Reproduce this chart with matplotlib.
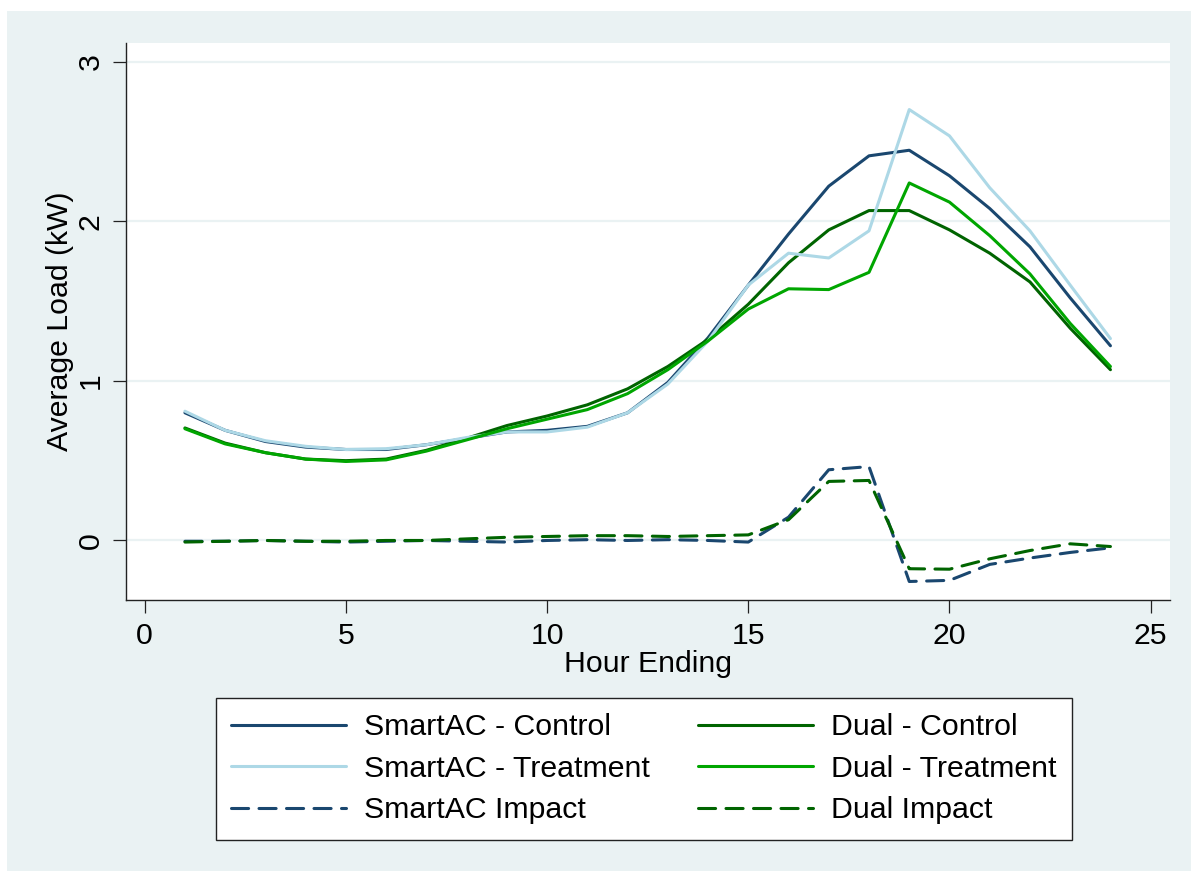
import matplotlib
matplotlib.use('Agg')
import matplotlib.pyplot as plt
from matplotlib.patches import Rectangle

# hour ending 1..24
hours = list(range(1, 25))

smartac_control = [0.80, 0.69, 0.62, 0.585, 0.57, 0.57, 0.60, 0.64, 0.68, 0.69, 0.715, 0.80,
                   0.99, 1.27, 1.60, 1.92, 2.22, 2.41, 2.445, 2.285, 2.08, 1.84, 1.52, 1.22]
smartac_treatment = [0.81, 0.69, 0.625, 0.59, 0.57, 0.575, 0.60, 0.645, 0.68, 0.68, 0.71, 0.80,
                     0.98, 1.25, 1.60, 1.80, 1.77, 1.94, 2.70, 2.535, 2.21, 1.94, 1.60, 1.265]
dual_control = [0.705, 0.61, 0.55, 0.51, 0.50, 0.51, 0.565, 0.64, 0.72, 0.78, 0.85, 0.95,
                1.09, 1.26, 1.48, 1.74, 1.946, 2.067, 2.067, 1.946, 1.80, 1.62, 1.33, 1.07]
dual_treatment = [0.70, 0.605, 0.55, 0.51, 0.495, 0.505, 0.56, 0.63, 0.70, 0.76, 0.82, 0.92,
                  1.07, 1.25, 1.45, 1.577, 1.572, 1.68, 2.24, 2.12, 1.91, 1.67, 1.36, 1.09]
smartac_impact = [-0.005, -0.005, 0.0, -0.005, -0.01, -0.005, 0.0, -0.005, -0.01, 0.0, 0.005, 0.0,
                  0.005, 0.0, -0.01, 0.146, 0.443, 0.463, -0.257, -0.25, -0.15, -0.11, -0.075, -0.046]
dual_impact = [-0.01, -0.005, 0.0, -0.005, -0.005, 0.0, 0.0, 0.01, 0.02, 0.025, 0.03, 0.03,
               0.025, 0.03, 0.035, 0.13, 0.37, 0.376, -0.177, -0.18, -0.115, -0.063, -0.021, -0.038]

x_ticks = [0, 5, 10, 15, 20, 25]
y_ticks = [0, 1, 2, 3]

NAVY = '#1a476f'
LTBLUE = '#add8e6'
DKGREEN = '#006400'
GREEN = '#00a600'
BG = '#eaf2f3'

plt.rcParams['font.family'] = ['Liberation Sans', 'DejaVu Sans']
plt.rcParams['lines.solid_capstyle'] = 'round'
plt.rcParams['lines.dash_capstyle'] = 'round'
plt.rcParams['lines.solid_joinstyle'] = 'round'
plt.rcParams['lines.dash_joinstyle'] = 'round'
FS = 21.8

fig = plt.figure(figsize=(11.91, 8.71), dpi=100, facecolor='white')
# light bluish-gray graph region (small white margin top/left)
fig.patches.append(Rectangle((7 / 1191, 0), 1 - 7 / 1191, 1 - 11 / 871,
                             transform=fig.transFigure, facecolor=BG,
                             edgecolor='none', zorder=-10))

ax = fig.add_axes([126 / 1191, 1 - 600 / 871, (1170 - 126) / 1191, (600 - 43) / 871])
ax.set_facecolor('white')

lw = 2.2
dash = (5.6, 3.4)
l_sc, = ax.plot(hours, smartac_control, color=NAVY, lw=lw)
l_dc, = ax.plot(hours, dual_control, color=DKGREEN, lw=lw)
l_st, = ax.plot(hours, smartac_treatment, color=LTBLUE, lw=lw)
l_dt, = ax.plot(hours, dual_treatment, color=GREEN, lw=lw)
l_si, = ax.plot(hours, smartac_impact, color=NAVY, lw=lw, dashes=dash)
l_di, = ax.plot(hours, dual_impact, color=DKGREEN, lw=lw, dashes=dash)

ax.set_xlim(-0.465, 25.48)
ax.set_ylim(-0.373, 3.117)
ax.set_xticks(x_ticks)
ax.set_yticks(y_ticks)
ax.yaxis.grid(True, color=BG, lw=1.6)
ax.set_axisbelow(True)

for s in ['top', 'right']:
    ax.spines[s].set_visible(False)
for s in ['left', 'bottom']:
    ax.spines[s].set_linewidth(1.0)
    ax.spines[s].set_color('#222222')

ax.tick_params(axis='both', length=9.5, width=0.9, color='#222222', labelsize=FS, pad=6)
ax.tick_params(axis='y', labelrotation=90)
for lab in ax.get_yticklabels():
    lab.set_va('center')

ax.set_xlabel('Hour Ending', fontsize=FS, labelpad=0)
ax.set_ylabel('Average Load (kW)', fontsize=FS, labelpad=2)

handles = [l_sc, l_st, l_si, l_dc, l_dt, l_di]
labels = ['SmartAC - Control', 'SmartAC - Treatment', 'SmartAC Impact',
          'Dual - Control', 'Dual - Treatment', 'Dual Impact']
leg = fig.legend(handles, labels, ncol=2, fontsize=FS, frameon=True, fancybox=False,
                 loc='upper left', framealpha=1,
                 bbox_to_anchor=(216 / 1191, 1 - 698 / 871),
                 handlelength=3.8, handletextpad=0.6, labelspacing=0.45,
                 borderpad=0.5, borderaxespad=0, columnspacing=1.57)
leg.get_frame().set_edgecolor('#222222')
leg.get_frame().set_linewidth(1.0)
leg.get_frame().set_facecolor('white')

fig.savefig('out.png', dpi=100, facecolor=fig.get_facecolor())
